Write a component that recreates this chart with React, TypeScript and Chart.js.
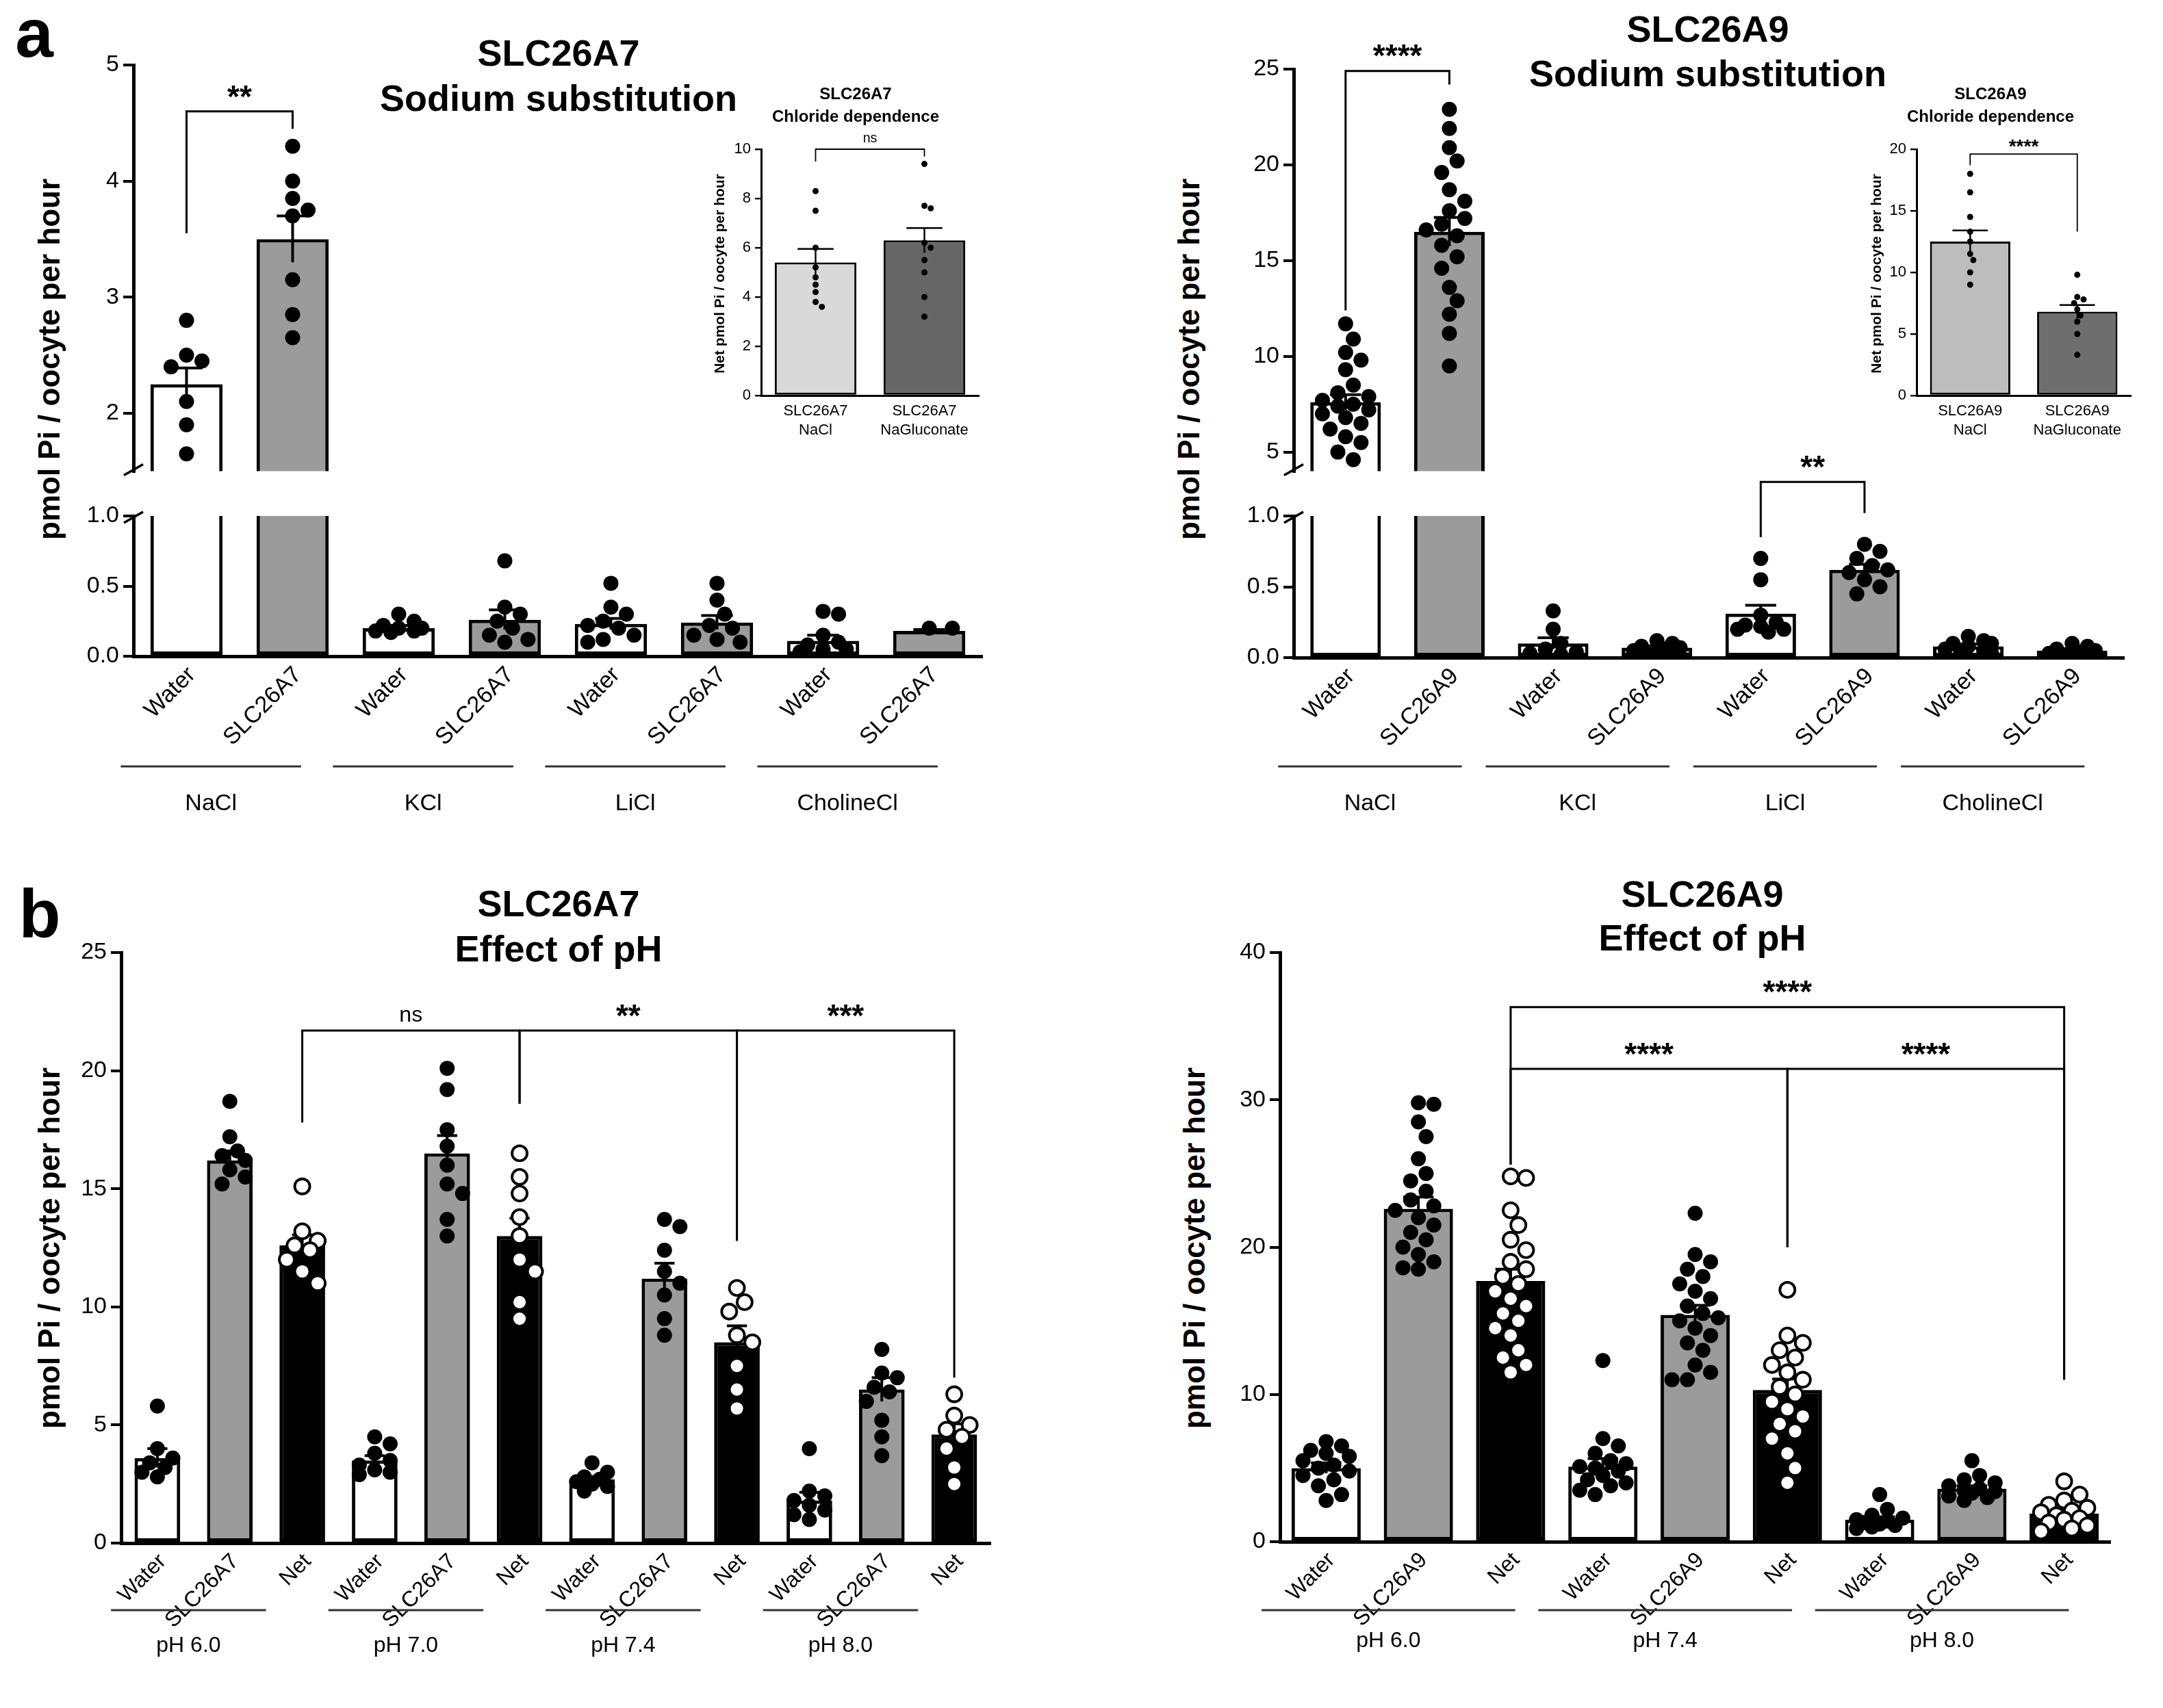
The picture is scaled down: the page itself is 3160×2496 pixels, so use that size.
import React, { useEffect, useRef } from "react";
import { Chart, registerables } from "chart.js";
Chart.register(...registerables);

const F = '"Liberation Sans", Arial, sans-serif';

// ---------- DATA ----------
const A7_CATS = ["Water", "SLC26A7", "Water", "SLC26A7", "Water", "SLC26A7", "Water", "SLC26A7"];
const A_GROUPS = ["NaCl", "KCl", "LiCl", "CholineCl"];
const A7_MEAN = [2.25, 3.5, 0.2, 0.26, 0.23, 0.24, 0.11, 0.18];
const A7_SEM = [0.14, 0.2, 0.02, 0.07, 0.04, 0.05, 0.04, 0.01];
const A7_PTS = [
  [2.8, 2.5, 2.45, 2.4, 2.1, 1.9, 1.65],
  [4.3, 4.0, 3.85, 3.75, 3.7, 3.15, 2.85, 2.65],
  [0.3, 0.25, 0.22, 0.2, 0.2, 0.18, 0.18, 0.17],
  [0.68, 0.35, 0.3, 0.25, 0.2, 0.15, 0.12, 0.1],
  [0.52, 0.35, 0.3, 0.25, 0.22, 0.2, 0.15, 0.12, 0.1],
  [0.52, 0.4, 0.3, 0.22, 0.2, 0.15, 0.12, 0.1],
  [0.32, 0.3, 0.15, 0.1, 0.08, 0.05, 0.05, 0.03],
  [0.2, 0.2],
];
const A9_CATS = ["Water", "SLC26A9", "Water", "SLC26A9", "Water", "SLC26A9", "Water", "SLC26A9"];
const A9_MEAN = [7.6, 16.5, 0.1, 0.07, 0.31, 0.62, 0.08, 0.05];
const A9_SEM = [0.4, 0.75, 0.04, 0.01, 0.06, 0.04, 0.015, 0.01];
const A9_PTS = [
  [11.7, 10.9, 10.2, 9.8, 9.3, 8.5, 8.1, 7.9, 7.7, 7.5, 7.4, 7.2, 7.0, 6.8, 6.5, 6.2, 5.8, 5.5, 5.0, 4.6],
  [22.9, 21.9, 20.9, 20.2, 19.6, 18.7, 18.1, 17.6, 17.2, 16.9, 16.6, 16.3, 15.8, 15.2, 14.6, 13.6, 12.9, 12.2, 11.2, 9.5],
  [0.33, 0.2, 0.1, 0.06, 0.04, 0.03, 0.02],
  [0.12, 0.1, 0.08, 0.07, 0.06, 0.05, 0.04, 0.03, 0.02],
  [0.7, 0.55, 0.3, 0.25, 0.23, 0.22, 0.2, 0.2, 0.18],
  [0.8, 0.75, 0.7, 0.65, 0.62, 0.6, 0.55, 0.5, 0.45],
  [0.15, 0.12, 0.1, 0.1, 0.08, 0.06, 0.05, 0.04, 0.03],
  [0.1, 0.08, 0.06, 0.05, 0.04, 0.03, 0.02, 0.02],
];
const A7_TOP_TICKS = [2, 3, 4, 5];
const A9_TOP_TICKS = [5, 10, 15, 20, 25];
const LOW_TICKS = [0, 0.5, 1.0];

const IN7_CATS = [["SLC26A7", "NaCl"], ["SLC26A7", "NaGluconate"]];
const IN7_MEAN = [5.4, 6.3];
const IN7_SEM = [0.55, 0.5];
const IN7_PTS = [
  [8.3, 7.5, 6.0, 5.2, 4.8, 4.5, 4.2, 3.8, 3.6],
  [9.4, 7.7, 7.6, 6.2, 6.0, 5.5, 5.0, 4.0, 3.2],
];
const IN9_CATS = [["SLC26A9", "NaCl"], ["SLC26A9", "NaGluconate"]];
const IN9_MEAN = [12.5, 6.8];
const IN9_SEM = [0.9, 0.55];
const IN9_PTS = [
  [18, 16.5, 14.5, 13.3, 12.5, 11.5, 11, 10, 9],
  [9.8, 8, 7.8, 7.5, 7, 6.5, 6, 5, 3.3],
];

const B7_CATS = ["Water", "SLC26A7", "Net", "Water", "SLC26A7", "Net", "Water", "SLC26A7", "Net", "Water", "SLC26A7", "Net"];
const B7_GROUPS = ["pH 6.0", "pH 7.0", "pH 7.4", "pH 8.0"];
const B7_MEAN = [3.6, 16.2, 12.6, 3.5, 16.5, 13.0, 2.7, 11.2, 8.5, 1.8, 6.5, 4.6];
const B7_SEM = [0.4, 0.4, 0.45, 0.2, 0.75, 0.75, 0.12, 0.65, 0.7, 0.35, 0.5, 0.45];
const B7_PTS = [
  [5.8, 4.0, 3.6, 3.4, 3.2, 3.0, 2.8],
  [18.7, 17.2, 16.6, 16.4, 16.2, 15.8, 15.5, 15.2],
  [15.1, 13.2, 12.8, 12.6, 12.4, 12.0, 11.5, 11.0],
  [4.5, 4.2, 3.8, 3.5, 3.3, 3.1, 3.0, 2.9],
  [20.1, 19.2, 17.5, 16.8, 16.0, 15.2, 14.8, 13.7, 13.0],
  [16.5, 15.5, 14.8, 13.8, 13.0, 12.0, 11.5, 10.2, 9.5],
  [3.4, 3.0, 2.8, 2.7, 2.6, 2.5, 2.4, 2.2],
  [13.7, 13.4, 12.4, 11.5, 11.0, 10.5, 9.5, 8.8],
  [10.8, 10.2, 9.8, 8.8, 8.5, 7.5, 6.5, 5.7],
  [4.0, 2.2, 2.0, 1.8, 1.6, 1.4, 1.2, 1.0],
  [8.2, 7.2, 7.0, 6.6, 6.4, 6.0, 5.2, 4.5, 3.7],
  [6.3, 5.4, 5.0, 4.8, 4.5, 4.0, 3.2, 2.5],
];
const B9_CATS = ["Water", "SLC26A9", "Net", "Water", "SLC26A9", "Net", "Water", "SLC26A9", "Net"];
const B9_GROUPS = ["pH 6.0", "pH 7.4", "pH 8.0"];
const B9_MEAN = [5.0, 22.6, 17.7, 5.1, 15.4, 10.3, 1.5, 3.6, 1.9];
const B9_SEM = [0.35, 0.8, 0.8, 0.55, 0.65, 0.75, 0.2, 0.2, 0.25];
const B9_PTS = [
  [6.8, 6.5, 6.2, 6.0, 5.8, 5.5, 5.2, 5.0, 4.8, 4.5, 4.2, 3.8, 3.2, 2.8],
  [29.8, 29.7, 28.5, 27.5, 26, 25, 24.5, 23.8, 23.2, 22.8, 22.5, 22, 21.5, 21, 20.5, 20, 19.5, 19, 18.6, 18.5],
  [24.8, 24.7, 22.5, 21.5, 20.5, 19.8, 19, 18.5, 18, 17.5, 17, 16.5, 16, 15.5, 15, 14.5, 14, 13, 12.5, 12, 11.5],
  [12.3, 7.0, 6.5, 6.0, 5.5, 5.3, 5.1, 5.0, 4.8, 4.5, 4.2, 4.0, 3.8, 3.5, 3.2],
  [22.3, 19.5, 19, 18.5, 18, 17.5, 17, 16.5, 16, 15.5, 15.2, 15, 14.5, 14, 13.5, 13, 12, 11.5, 11, 11],
  [17.1, 14, 13.5, 13, 12.5, 12, 11.5, 11, 10.5, 10, 9.5, 9, 8.5, 8, 7.5, 7, 6, 5, 4],
  [3.2, 2.2, 1.8, 1.6, 1.5, 1.4, 1.3, 1.2, 1.1, 1.0, 0.9],
  [5.5, 4.5, 4.2, 4.0, 3.8, 3.6, 3.5, 3.4, 3.3, 3.1, 3.0, 2.8],
  [4.1, 3.2, 2.8, 2.5, 2.3, 2.1, 2.0, 1.8, 1.6, 1.5, 1.3, 1.1, 0.9, 0.7],
];

// ---------- CHART BUILDER ----------
type Bracket = { a: number; b: number; y: number; la: number; lb: number; t: string; small?: boolean };
type Opt = {
  axisX: number; plotTop: number; plotBottom: number; plotRight: number;
  padTop: number; padBottom: number; yw: number;
  cats: any[]; mean: number[]; sem: number[]; pts: number[][];
  colors: string[]; open?: boolean[];
  min: number; max: number; ticks: number[]; fmt?: (v: number) => string;
  barPct: number; dotR: number; lw: number; tickFont: number;
  rotLabels?: boolean; flatLabels?: boolean; labFont?: number;
  groups?: string[]; groupSize?: number; gOff?: [number, number]; gLineY?: number; gLabY?: number;
  brackets?: Bracket[]; brFont?: number;
  breakBottom?: boolean; breakTop?: boolean; showXAxis: boolean;
};

function rectOf(o: Opt) {
  const left = o.axisX - o.yw;
  const top = o.plotTop - o.padTop;
  return { left, top, width: o.plotRight - left + 10, height: o.plotBottom + o.padBottom - top };
}

function makeConfig(o: Opt): any {
  const plugin = {
    id: "deco",
    afterDatasetsDraw(chart: any) {
      const ctx = chart.ctx;
      const xs = chart.scales.x, ys = chart.scales.y;
      const ca = chart.chartArea;
      const step = xs.getPixelForValue(1) - xs.getPixelForValue(0);
      const bw = step * o.barPct;
      ctx.save();
      ctx.beginPath();
      ctx.rect(ca.left - 30, ca.top - 2, ca.right - ca.left + 60, ca.bottom - ca.top + 4);
      ctx.clip();
      o.mean.forEach((m, i) => {
        const x = xs.getPixelForValue(i);
        const s = o.sem[i];
        ctx.strokeStyle = "#000";
        ctx.lineWidth = o.lw * 0.8;
        ctx.beginPath();
        ctx.moveTo(x, ys.getPixelForValue(m - s));
        ctx.lineTo(x, ys.getPixelForValue(m + s));
        const cw = bw * 0.22;
        ctx.moveTo(x - cw, ys.getPixelForValue(m + s));
        ctx.lineTo(x + cw, ys.getPixelForValue(m + s));
        ctx.stroke();
      });
      o.pts.forEach((arr, i) => {
        const x0 = xs.getPixelForValue(i);
        const d = o.dotR * 2.05;
        const maxOff = bw * 0.42;
        const placed: { x: number; y: number }[] = [];
        arr.forEach((v) => {
          const py = ys.getPixelForValue(v);
          let best = x0, bestScore = -1;
          for (let k = 0; k < 40; k++) {
            const off = (k === 0 ? 0 : (k % 2 ? 1 : -1) * Math.ceil(k / 2)) * d * 0.5;
            if (Math.abs(off) > maxOff) break;
            const cx = x0 + off;
            const md = placed.length ? Math.min(...placed.map((p) => Math.hypot(p.x - cx, p.y - py))) : 1e9;
            if (md >= d) { best = cx; bestScore = 1e9; break; }
            if (md > bestScore) { bestScore = md; best = cx; }
          }
          placed.push({ x: best, y: py });
          ctx.beginPath();
          ctx.arc(best, py, o.dotR, 0, Math.PI * 2);
          if (o.open && o.open[i]) {
            ctx.fillStyle = "#fff"; ctx.fill();
            ctx.lineWidth = o.dotR * 0.35; ctx.strokeStyle = "#000"; ctx.stroke();
          } else {
            ctx.fillStyle = "#000"; ctx.fill();
          }
        });
      });
      ctx.restore();
      (o.brackets || []).forEach((b) => {
        const xa = xs.getPixelForValue(b.a), xb = xs.getPixelForValue(b.b);
        const y = ys.getPixelForValue(b.y);
        ctx.strokeStyle = "#000"; ctx.lineWidth = o.lw * 0.6;
        ctx.beginPath();
        ctx.moveTo(xa, ys.getPixelForValue(b.la)); ctx.lineTo(xa, y);
        ctx.lineTo(xb, y); ctx.lineTo(xb, ys.getPixelForValue(b.lb));
        ctx.stroke();
        ctx.fillStyle = "#000";
        ctx.textAlign = "center"; ctx.textBaseline = "bottom";
        ctx.font = (b.small ? "" : "bold ") + (b.small ? (o.brFont || 40) * 0.7 : o.brFont || 40) + "px " + F;
        ctx.fillText(b.t, (xa + xb) / 2, y - (b.small ? 6 : -4));
      });
      const ax = ca.left;
      ctx.strokeStyle = "#000"; ctx.lineWidth = o.lw * 0.7;
      if (o.breakBottom) {
        ctx.beginPath(); ctx.moveTo(ax - 14, ca.bottom + 6); ctx.lineTo(ax + 14, ca.bottom - 10); ctx.stroke();
      }
      if (o.breakTop) {
        ctx.beginPath(); ctx.moveTo(ax - 14, ca.top + 10); ctx.lineTo(ax + 14, ca.top - 6); ctx.stroke();
      }
      const lf = o.labFont || 34;
      ctx.fillStyle = "#000";
      if (o.rotLabels) {
        ctx.font = lf + "px " + F;
        o.cats.forEach((c: string, i: number) => {
          const x = xs.getPixelForValue(i);
          ctx.save();
          ctx.translate(x + 8, ca.bottom + 22);
          ctx.rotate(-Math.PI / 4);
          ctx.textAlign = "right"; ctx.textBaseline = "middle";
          ctx.fillText(c, 0, 0);
          ctx.restore();
        });
      }
      if (o.flatLabels) {
        ctx.font = lf + "px " + F;
        ctx.textAlign = "center"; ctx.textBaseline = "top";
        o.cats.forEach((c: string[], i: number) => {
          const x = xs.getPixelForValue(i);
          c.forEach((line, j) => ctx.fillText(line, x, ca.bottom + 12 + j * lf * 1.25));
        });
      }
      if (o.groups && o.groupSize && o.gOff) {
        o.groups.forEach((g, gi) => {
          const c0 = xs.getPixelForValue(gi * o.groupSize!);
          const c1 = xs.getPixelForValue(gi * o.groupSize! + o.groupSize! - 1);
          const x0 = c0 + o.gOff![0] * step, x1 = c1 + o.gOff![1] * step;
          ctx.strokeStyle = "#333"; ctx.lineWidth = 3;
          ctx.beginPath(); ctx.moveTo(x0, ca.bottom + o.gLineY!); ctx.lineTo(x1, ca.bottom + o.gLineY!); ctx.stroke();
          ctx.font = lf + "px " + F; ctx.textAlign = "center"; ctx.textBaseline = "middle";
          ctx.fillText(g, (x0 + x1) / 2, ca.bottom + o.gLabY!);
        });
      }
    },
  };
  return {
    type: "bar",
    data: {
      labels: o.cats.map((_: any, i: number) => String(i)),
      datasets: [{
        data: o.mean,
        backgroundColor: o.colors,
        borderColor: "#000",
        borderWidth: o.lw,
        borderSkipped: false,
        barPercentage: o.barPct,
        categoryPercentage: 1,
      }],
    },
    options: {
      animation: false,
      responsive: true,
      maintainAspectRatio: false,
      layout: { padding: { top: o.padTop, bottom: o.padBottom, left: 0, right: 10 } },
      plugins: { legend: { display: false }, tooltip: { enabled: false } },
      scales: {
        x: {
          display: true,
          ticks: { display: false },
          grid: { display: false, drawTicks: false },
          border: { display: o.showXAxis, color: "#000", width: o.lw },
          afterFit: (s: any) => { s.height = 0; },
        },
        y: {
          min: o.min, max: o.max,
          afterFit: (s: any) => { s.width = o.yw; },
          afterBuildTicks: (s: any) => { s.ticks = o.ticks.map((v) => ({ value: v })); },
          ticks: {
            color: "#000",
            font: { size: o.tickFont, family: F },
            padding: 6,
            callback: (v: any) => (o.fmt ? o.fmt(Number(v)) : String(v)),
          },
          grid: { display: true, drawOnChartArea: false, drawTicks: true, tickLength: o.lw * 3, color: "#000", lineWidth: o.lw * 0.8 },
          border: { display: true, color: "#000", width: o.lw },
        },
      },
    },
    plugins: [plugin],
  };
}

function Box({ o }: { o: Opt }) {
  const ref = useRef<HTMLCanvasElement>(null);
  useEffect(() => {
    const c = new Chart(ref.current!, makeConfig(o));
    return () => c.destroy();
  }, []);
  const r = rectOf(o);
  return (
    <div style={{ position: "absolute", left: r.left, top: r.top, width: r.width, height: r.height }}>
      <canvas ref={ref} />
    </div>
  );
}

function Txt({ x, y, s, bold, children, rot }: any) {
  return (
    <div style={{
      position: "absolute", left: x, top: y, fontFamily: F, fontSize: s, fontWeight: bold ? "bold" : "normal",
      transform: "translate(-50%,-50%)" + (rot ? " rotate(-90deg)" : ""), whiteSpace: "nowrap", color: "#000", lineHeight: 1,
    }}>{children}</div>
  );
}

const W = "#ffffff", G = "#9b9b9b", K = "#000000";
const f1 = (v: number) => v.toFixed(1);

const commonA = { yw: 100, barPct: 0.68, dotR: 11, lw: 5, tickFont: 34, labFont: 34, brFont: 46 };

const aL = { axisX: 195, plotRight: 1435, cats: A7_CATS, mean: A7_MEAN, sem: A7_SEM, pts: A7_PTS, colors: [W, G, W, G, W, G, W, G] };
const aR = { axisX: 1890, plotRight: 3103, cats: A9_CATS, mean: A9_MEAN, sem: A9_SEM, pts: A9_PTS, colors: [W, G, W, G, W, G, W, G] };

const O_ALT: Opt = { ...commonA, ...aL, plotTop: 95, plotBottom: 715, padTop: 95, padBottom: 0, min: 1.5, max: 5, ticks: A7_TOP_TICKS,
  breakBottom: true, showXAxis: false, brackets: [{ a: 0, b: 1, y: 4.6, la: 3.55, lb: 4.45, t: "**" }] };
const O_ALB: Opt = { ...commonA, ...aL, plotTop: 754, plotBottom: 959, padTop: 40, padBottom: 260, min: 0, max: 1, ticks: LOW_TICKS, fmt: f1,
  breakTop: true, showXAxis: true, rotLabels: true, groups: A_GROUPS, groupSize: 2, gOff: [-0.62, 0.08], gLineY: 161, gLabY: 216 };
const O_ART: Opt = { ...commonA, ...aR, plotTop: 101, plotBottom: 715, padTop: 101, padBottom: 0, min: 4, max: 25, ticks: A9_TOP_TICKS,
  breakBottom: true, showXAxis: false, brackets: [{ a: 0, b: 1, y: 24.9, la: 12.4, lb: 24.2, t: "****" }] };
const O_ARB: Opt = { ...commonA, ...aR, plotTop: 754, plotBottom: 961, padTop: 120, padBottom: 260, min: 0, max: 1, ticks: LOW_TICKS, fmt: f1,
  breakTop: true, showXAxis: true, rotLabels: true, groups: A_GROUPS, groupSize: 2, gOff: [-0.65, 0.12], gLineY: 159, gLabY: 214,
  brackets: [{ a: 4, b: 5, y: 1.24, la: 0.85, lb: 1.02, t: "**" }] };

const commonIn = { yw: 46, barPct: 0.75, dotR: 4.5, lw: 3, tickFont: 22, labFont: 22, brFont: 28, plotTop: 218, plotBottom: 578, padTop: 40, padBottom: 90, showXAxis: true, flatLabels: true };
const O_IN7: Opt = { ...commonIn, axisX: 1112, plotRight: 1430, cats: IN7_CATS, mean: IN7_MEAN, sem: IN7_SEM, pts: IN7_PTS, colors: ["#d9d9d9", "#666666"],
  min: 0, max: 10, ticks: [0, 2, 4, 6, 8, 10], brackets: [{ a: 0, b: 1, y: 10.0, la: 9.5, lb: 9.7, t: "ns", small: true }] };
const O_IN9: Opt = { ...commonIn, axisX: 2800, plotRight: 3113, cats: IN9_CATS, mean: IN9_MEAN, sem: IN9_SEM, pts: IN9_PTS, colors: ["#bdbdbd", "#6e6e6e"],
  min: 0, max: 20, ticks: [0, 5, 10, 15, 20], brackets: [{ a: 0, b: 1, y: 19.6, la: 18.7, lb: 13.3, t: "****" }] };

const O_BL: Opt = { ...commonA, axisX: 177, plotRight: 1447, plotTop: 1392, plotBottom: 2255, padTop: 40, padBottom: 220, yw: 100,
  cats: B7_CATS, mean: B7_MEAN, sem: B7_SEM, pts: B7_PTS, colors: [W, G, K, W, G, K, W, G, K, W, G, K],
  open: [false, false, true, false, false, true, false, false, true, false, false, true],
  barPct: 0.63, labFont: 32, min: 0, max: 25, ticks: [0, 5, 10, 15, 20, 25], showXAxis: true, rotLabels: true,
  groups: B7_GROUPS, groupSize: 3, gOff: [-0.64, -0.5], gLineY: 98, gLabY: 150,
  brackets: [
    { a: 2, b: 5, y: 21.7, la: 17.8, lb: 18.6, t: "ns", small: true },
    { a: 5, b: 8, y: 21.7, la: 18.6, lb: 12.8, t: "**" },
    { a: 8, b: 11, y: 21.7, la: 12.8, lb: 7.0, t: "***" },
  ] };
const O_BR: Opt = { ...commonA, axisX: 1870, plotRight: 3083, plotTop: 1392, plotBottom: 2253, padTop: 40, padBottom: 220, yw: 100,
  cats: B9_CATS, mean: B9_MEAN, sem: B9_SEM, pts: B9_PTS, colors: [W, G, K, W, G, K, W, G, K],
  open: [false, false, true, false, false, true, false, false, true],
  barPct: 0.75, labFont: 32, min: 0, max: 40, ticks: [0, 10, 20, 30, 40], showXAxis: true, rotLabels: true,
  groups: B9_GROUPS, groupSize: 3, gOff: [-0.7, 0.05], gLineY: 100, gLabY: 145,
  brackets: [
    { a: 2, b: 8, y: 36.3, la: 25.6, lb: 11, t: "****" },
    { a: 2, b: 5, y: 32.1, la: 25.6, lb: 20, t: "****" },
    { a: 5, b: 8, y: 32.1, la: 20, lb: 11, t: "****" },
  ] };

export default function App() {
  const yl = "pmol Pi / oocyte per hour";
  return (
    <div style={{ position: "absolute", left: 0, top: 0, width: 3160, height: 2496, background: "#fff", overflow: "hidden" }}>
      <Box o={O_ALT} />
      <Box o={O_ALB} />
      <Box o={O_ART} />
      <Box o={O_ARB} />
      <Box o={O_IN7} />
      <Box o={O_IN9} />
      <Box o={O_BL} />
      <Box o={O_BR} />
      <Txt x={50} y={48} s={100} bold>a</Txt>
      <Txt x={58} y={1335} s={100} bold>b</Txt>
      <Txt x={816} y={77} s={54} bold>SLC26A7</Txt>
      <Txt x={816} y={143} s={54} bold>Sodium substitution</Txt>
      <Txt x={2495} y={42} s={54} bold>SLC26A9</Txt>
      <Txt x={2495} y={107} s={54} bold>Sodium substitution</Txt>
      <Txt x={816} y={1320} s={54} bold>SLC26A7</Txt>
      <Txt x={816} y={1386} s={54} bold>Effect of pH</Txt>
      <Txt x={2487} y={1306} s={54} bold>SLC26A9</Txt>
      <Txt x={2487} y={1370} s={54} bold>Effect of pH</Txt>
      <Txt x={1250} y={137} s={24} bold>SLC26A7</Txt>
      <Txt x={1250} y={170} s={24} bold>Chloride dependence</Txt>
      <Txt x={2908} y={137} s={24} bold>SLC26A9</Txt>
      <Txt x={2908} y={170} s={24} bold>Chloride dependence</Txt>
      <Txt x={1050} y={400} s={21} bold rot>Net pmol Pi / oocyte per hour</Txt>
      <Txt x={2740} y={400} s={21} bold rot>Net pmol Pi / oocyte per hour</Txt>
      <Txt x={72} y={525} s={44} bold rot>{yl}</Txt>
      <Txt x={1737} y={525} s={44} bold rot>{yl}</Txt>
      <Txt x={72} y={1824} s={44} bold rot>{yl}</Txt>
      <Txt x={1745} y={1824} s={44} bold rot>{yl}</Txt>
    </div>
  );
}
